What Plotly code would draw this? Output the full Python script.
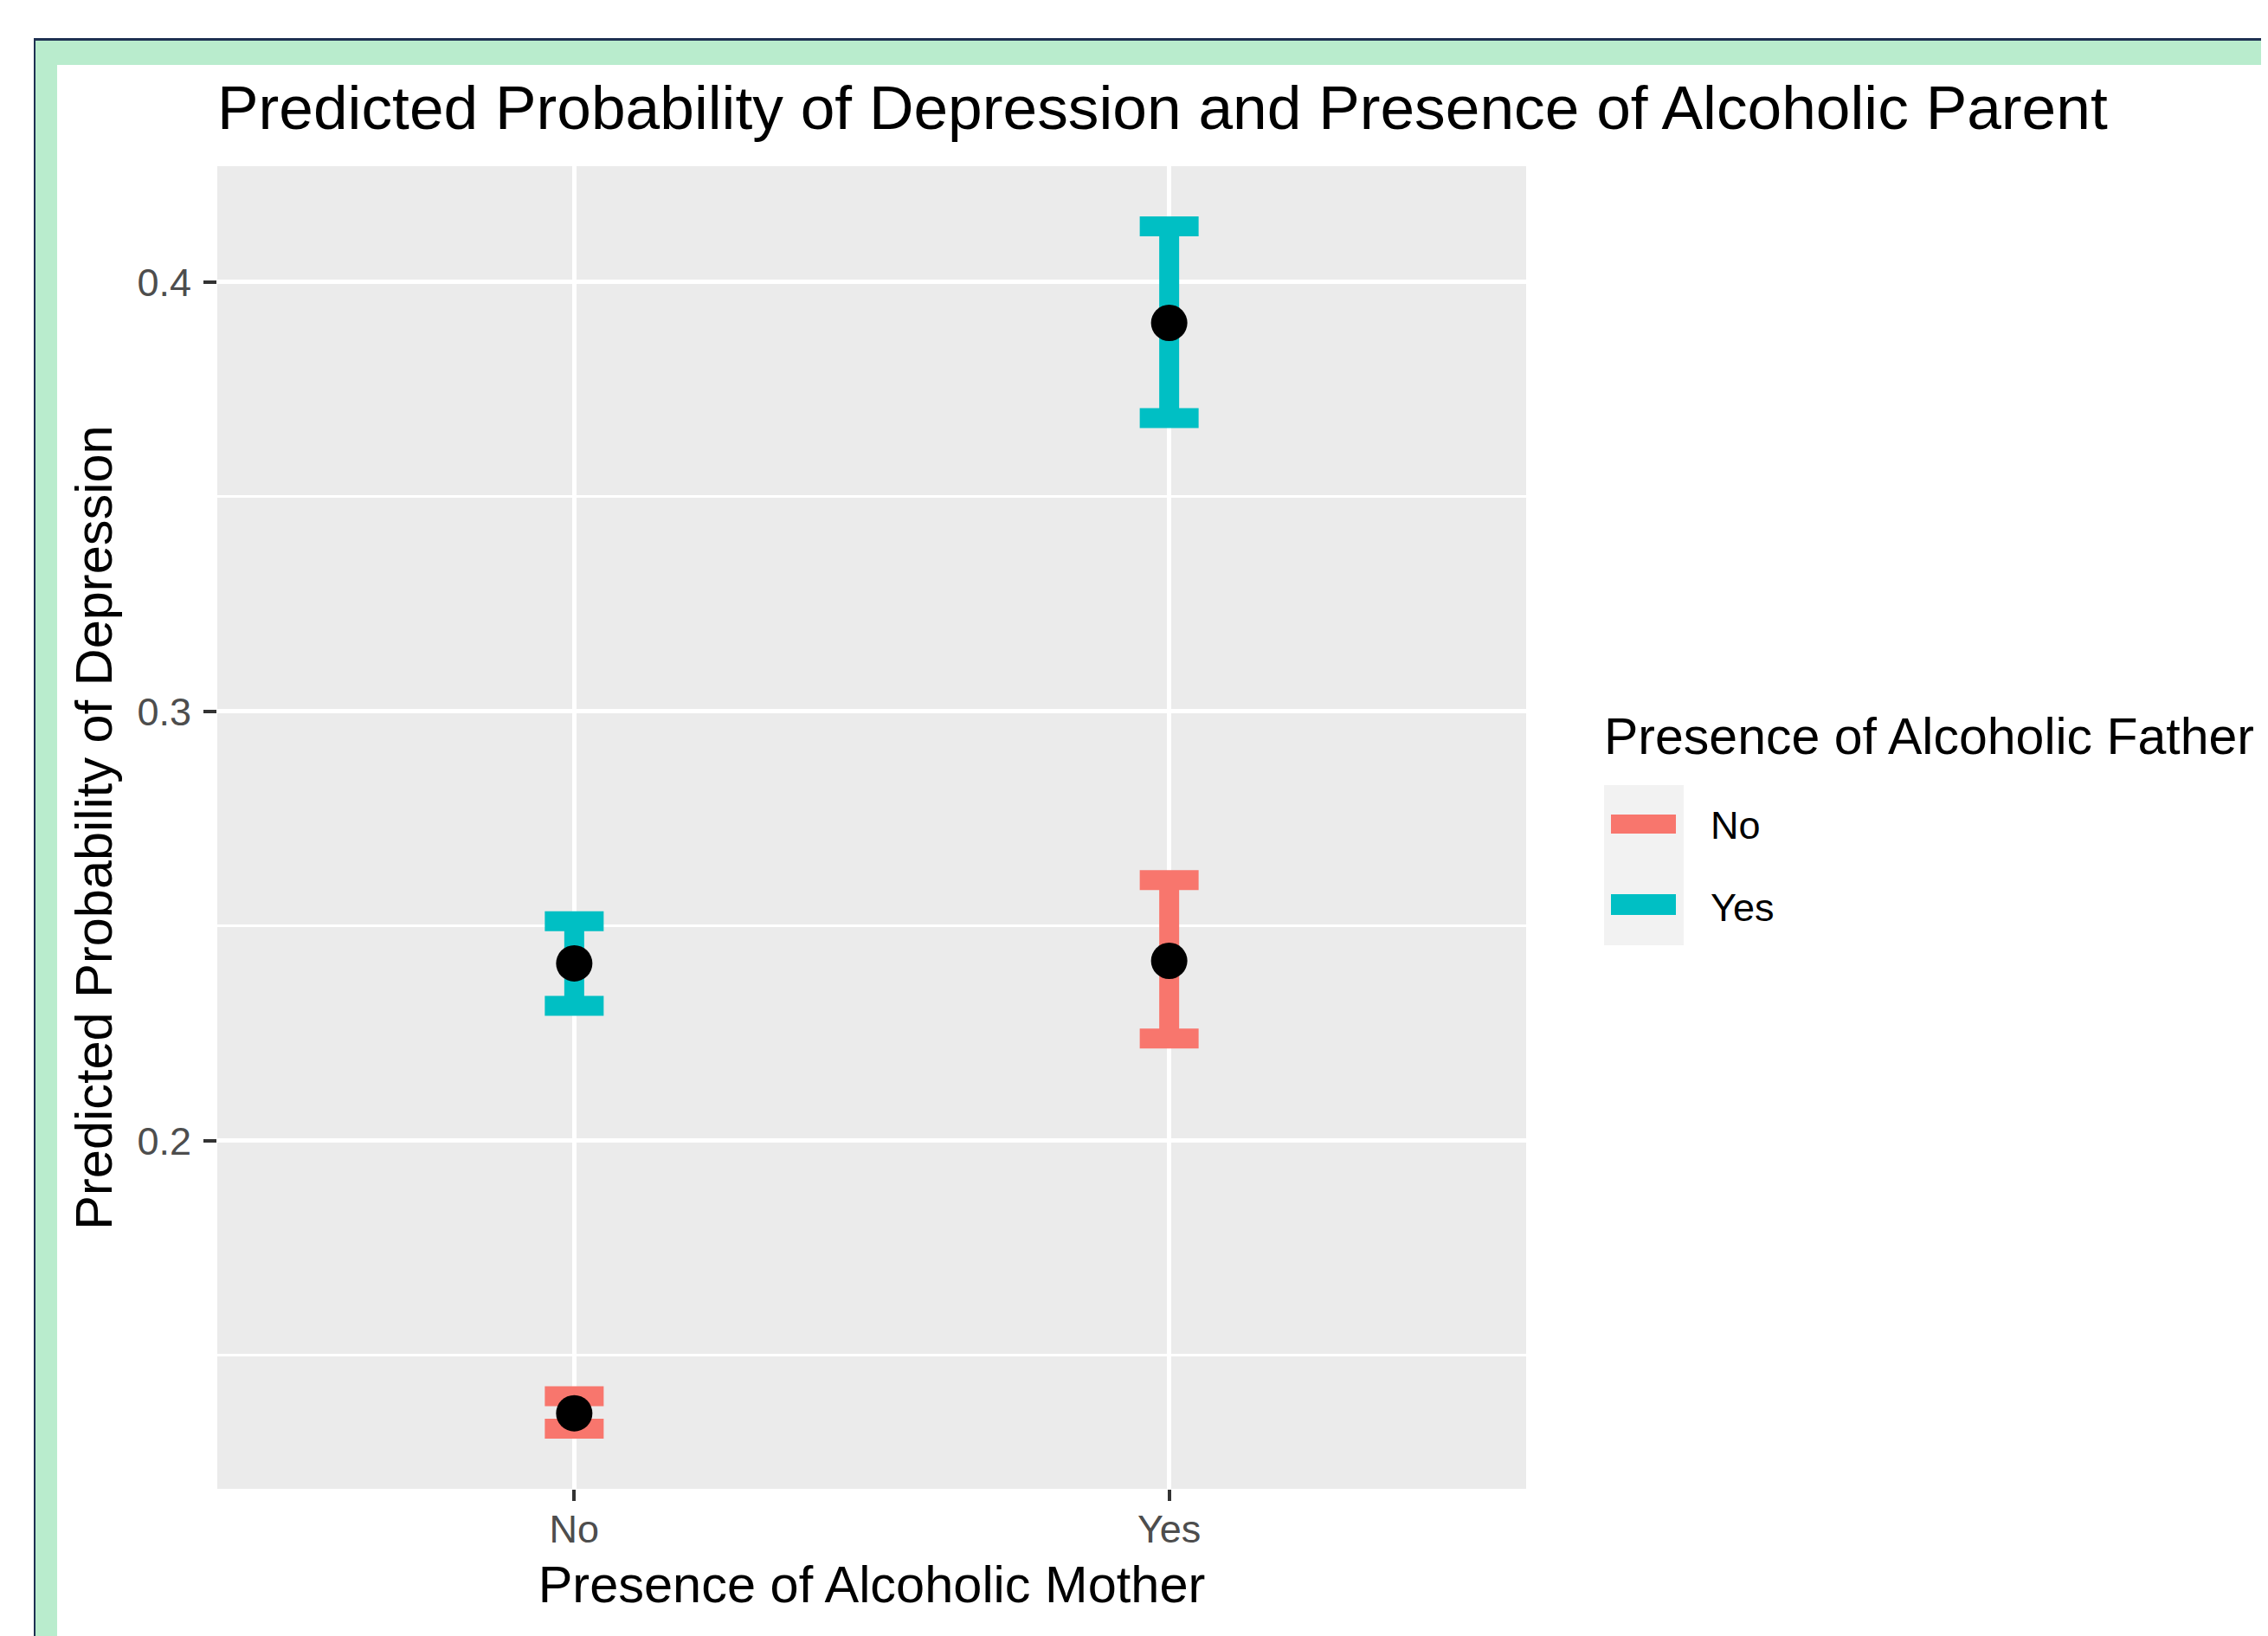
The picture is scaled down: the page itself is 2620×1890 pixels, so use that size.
import plotly.graph_objects as go

# ---- data ----
mother_cats = ["No", "Yes"]
father_groups = ["No", "Yes"]
prob_father_no = [0.1365, 0.2419]
lo_father_no = [0.1329, 0.2238]
hi_father_no = [0.1405, 0.2607]
prob_father_yes = [0.2413, 0.3905]
lo_father_yes = [0.2314, 0.3683]
hi_father_yes = [0.2511, 0.4130]
y_ticks = [0.2, 0.3, 0.4]

colors = {"No": "#F8766D", "Yes": "#00BFC4"}

OFF = 8  # browser body margin
PAGE_W, PAGE_H = 2620, 1890
W, H = PAGE_W - OFF, PAGE_H - OFF
# panel edges in page pixels
L, R, T, B = 251, 1763, 192, 1720


def px_x(p):
    return (p - L) / (R - L)


def px_y(p):
    return (B - p) / (B - T)


fig = go.Figure()

series = {
    "No": (prob_father_no, lo_father_no, hi_father_no),
    "Yes": (prob_father_yes, lo_father_yes, hi_father_yes),
}

# error bars first
for g in father_groups:
    p, lo, hi = series[g]
    fig.add_trace(go.Scatter(
        x=mother_cats, y=p, mode="markers", name=g,
        marker=dict(size=1, opacity=0, color=colors[g]),
        error_y=dict(type="data", symmetric=False,
                     array=[h - v for h, v in zip(hi, p)],
                     arrayminus=[v - l for v, l in zip(p, lo)],
                     color=colors[g], thickness=23, width=34),
        showlegend=False, hoverinfo="skip"))

# points on top
for g in father_groups:
    p, lo, hi = series[g]
    fig.add_trace(go.Scatter(
        x=mother_cats, y=p, mode="markers", name=g,
        marker=dict(size=42, color="black", line=dict(width=0)),
        showlegend=False))

shapes = []
navy = "#1E3152"
mint = "#B9ECCD"
# frame: navy lines and mint bands
shapes.append(dict(type="rect", xref="paper", yref="paper", layer="below",
                   x0=px_x(39), x1=px_x(2700), y0=px_y(47), y1=px_y(44),
                   fillcolor=navy, line=dict(width=0)))
shapes.append(dict(type="rect", xref="paper", yref="paper", layer="below",
                   x0=px_x(39), x1=px_x(41), y0=px_y(2000), y1=px_y(44),
                   fillcolor=navy, line=dict(width=0)))
shapes.append(dict(type="rect", xref="paper", yref="paper", layer="below",
                   x0=px_x(41), x1=px_x(2700), y0=px_y(75), y1=px_y(47),
                   fillcolor=mint, line=dict(width=0)))
shapes.append(dict(type="rect", xref="paper", yref="paper", layer="below",
                   x0=px_x(41), x1=px_x(66), y0=px_y(2000), y1=px_y(47),
                   fillcolor=mint, line=dict(width=0)))

# manual legend
shapes.append(dict(type="rect", xref="paper", yref="paper",
                   x0=px_x(1853), x1=px_x(1945), y0=px_y(1092), y1=px_y(907),
                   fillcolor="#F2F2F2", line=dict(width=0)))
key_rows = {"No": (941, 963, 953), "Yes": (1033, 1057, 1048)}
annotations = [dict(xref="paper", yref="paper", x=px_x(1851), y=px_y(851),
                    xanchor="left", yanchor="middle", showarrow=False,
                    text="Presence of Alcoholic Father",
                    font=dict(size=59, color="black"))]
for g in father_groups:
    t0, t1, c = key_rows[g]
    shapes.append(dict(type="rect", xref="paper", yref="paper",
                       x0=px_x(1861), x1=px_x(1936), y0=px_y(t1), y1=px_y(t0),
                       fillcolor=colors[g], line=dict(width=0)))
    annotations.append(dict(xref="paper", yref="paper", x=px_x(1974), y=px_y(c),
                            xanchor="left", yanchor="middle", showarrow=False,
                            text=g, font=dict(size=45, color="black")))

fig.update_layout(
    width=W, height=H,
    margin=dict(l=L - OFF, r=PAGE_W - R, t=T - OFF, b=PAGE_H - B, pad=0),
    paper_bgcolor="white", plot_bgcolor="#EBEBEB",
    font=dict(family="Liberation Sans, Arial, sans-serif", color="black"),
    title=dict(text="Predicted Probability of Depression and Presence of Alcoholic Parent",
               x=(L - OFF) / W, xanchor="left", xref="container",
               y=1 - (124 - OFF) / H, yanchor="middle", yref="container",
               font=dict(size=71.3, color="black")),
    shapes=shapes, annotations=annotations,
    showlegend=False,
)

fig.update_xaxes(
    type="category", categoryorder="array", categoryarray=mother_cats,
    range=[-0.6, 1.6], showgrid=True, gridcolor="white", gridwidth=5,
    zeroline=False, showline=False,
    ticks="outside", ticklen=13, tickwidth=4, tickcolor="#333333",
    tickfont=dict(size=45, color="#4D4D4D"), ticklabelstandoff=-6,
    title=dict(text="Presence of Alcoholic Mother", font=dict(size=59.5, color="black"),
               standoff=18),
)
fig.update_yaxes(
    range=[0.1189, 0.4270], tickmode="array", tickvals=y_ticks,
    ticktext=[f"{v:.1f}" for v in y_ticks],
    showgrid=True, gridcolor="white", gridwidth=5,
    minor=dict(tickmode="array", tickvals=[0.15, 0.25, 0.35], showgrid=True,
               gridcolor="white", gridwidth=2.5, ticks=""),
    zeroline=False, showline=False,
    ticks="outside", ticklen=15, tickwidth=4, tickcolor="#333333",
    tickfont=dict(size=45, color="#4D4D4D"), ticklabelstandoff=5,
    title=dict(text="Predicted Probability of Depression", font=dict(size=59.5, color="black"),
               standoff=9),
)

fig.write_html("out.html")
